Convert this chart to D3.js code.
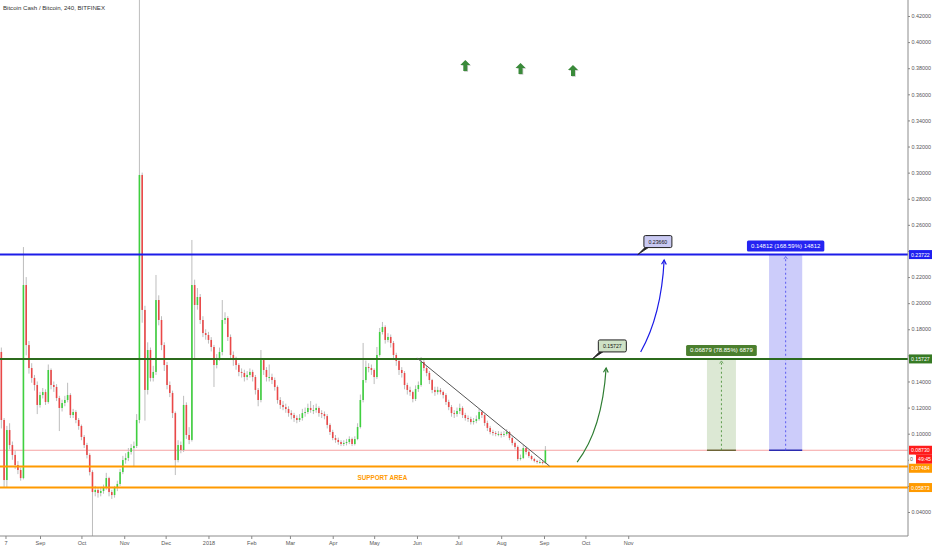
<!DOCTYPE html>
<html><head><meta charset="utf-8">
<script src="https://cdn.jsdelivr.net/npm/d3@7"></script>
<style>
body{margin:0;background:#fff;}
svg{display:block;font-family:"Liberation Sans",Arial,sans-serif;}
</style>
</head><body>
<svg id="chart" width="932" height="550"></svg>
<script>
// ---------------- DATA ----------------
const title = "Bitcoin Cash / Bitcoin, 240, BITFINEX";
const candleStart = new Date(2017, 7, 2);   // first candle date
const candleStepDays = 2;                   // candle interval (resampled)
const firstOpen = 0.1650;
const closes = [
0.1626,0.1105,0.0645,0.1028,0.0913,0.0837,0.0760,0.0722,0.0660,0.2139,
0.1679,0.1503,0.1427,0.1373,0.1220,0.1296,0.1319,0.1243,0.1488,0.1373,
0.1358,0.1273,0.1197,0.1235,0.1258,0.1296,0.1143,0.1166,0.1105,0.1059,
0.0975,0.0913,0.0837,0.0706,0.0553,0.0569,0.0546,0.0561,0.0584,0.0660,
0.0553,0.0530,0.0584,0.0615,0.0706,0.0798,0.0814,0.0860,0.0890,0.0906,
0.1105,0.2982,0.1948,0.1335,0.1641,0.1427,0.1473,0.2024,0.1871,0.1679,
0.1526,0.1373,0.1312,0.1158,0.0798,0.0913,0.0875,0.1220,0.0990,0.0952,
0.2139,0.1986,0.2047,0.1871,0.1771,0.1756,0.1718,0.1664,0.1526,0.1580,
0.1626,0.1871,0.1886,0.1741,0.1603,0.1564,0.1526,0.1473,0.1465,0.1434,
0.1450,0.1473,0.1434,0.1335,0.1258,0.1564,0.1488,0.1434,0.1434,0.1411,
0.1358,0.1258,0.1220,0.1204,0.1189,0.1158,0.1143,0.1120,0.1105,0.1120,
0.1158,0.1166,0.1197,0.1181,0.1181,0.1197,0.1158,0.1151,0.1135,0.1067,
0.1013,0.0967,0.0952,0.0936,0.0921,0.0929,0.0936,0.0959,0.0921,0.0959,
0.1051,0.1258,0.1411,0.1511,0.1503,0.1488,0.1434,0.1603,0.1779,0.1817,
0.1718,0.1741,0.1695,0.1603,0.1557,0.1488,0.1465,0.1373,0.1335,0.1319,
0.1266,0.1342,0.1373,0.1549,0.1503,0.1465,0.1411,0.1335,0.1319,0.1335,
0.1319,0.1296,0.1243,0.1204,0.1158,0.1151,0.1174,0.1197,0.1143,0.1120,
0.1112,0.1089,0.1097,0.1112,0.1166,0.1143,0.1082,0.1044,0.1013,0.1005,
0.0998,0.0998,0.0990,0.0998,0.1013,0.0967,0.0929,0.0898,0.0806,0.0814,
0.0890,0.0860,0.0829,0.0806,0.0791,0.0783,0.0783,0.0775,0.0873
];
const highs = [
0.1680,0.1660,0.1120,0.1060,0.1080,0.0940,0.0870,0.0790,0.0740,0.2430,
0.2200,0.1710,0.1540,0.1450,0.1400,0.1320,0.1350,0.1340,0.1530,0.1500,
0.1400,0.1380,0.1290,0.1260,0.1290,0.1390,0.1310,0.1190,0.1180,0.1120,
0.1070,0.0990,0.0930,0.0850,0.0720,0.0600,0.0590,0.0590,0.0610,0.0700,
0.0670,0.0570,0.0600,0.0640,0.0730,0.0830,0.0850,0.0890,0.0920,0.0940,
0.1150,0.4330,0.3000,0.1980,0.1700,0.1660,0.1520,0.2216,0.2060,0.1900,
0.1700,0.1550,0.1400,0.1330,0.1170,0.0950,0.0940,0.1290,0.1240,0.1050,
0.2484,0.2180,0.2116,0.2070,0.1900,0.1800,0.1780,0.1740,0.1680,0.1610,
0.1660,0.2024,0.1930,0.1900,0.1760,0.1630,0.1590,0.1540,0.1500,0.1490,
0.1480,0.1500,0.1490,0.1450,0.1350,0.1641,0.1580,0.1510,0.1530,0.1460,
0.1430,0.1370,0.1280,0.1250,0.1230,0.1210,0.1180,0.1160,0.1140,0.1150,
0.1190,0.1200,0.1230,0.1250,0.1220,0.1230,0.1210,0.1180,0.1170,0.1150,
0.1080,0.1030,0.0990,0.0970,0.0950,0.0950,0.0960,0.0980,0.0970,0.0980,
0.1080,0.1300,0.1695,0.1560,0.1540,0.1530,0.1500,0.1664,0.1810,0.1856,
0.1830,0.1770,0.1760,0.1710,0.1620,0.1570,0.1510,0.1480,0.1390,0.1360,
0.1330,0.1370,0.1400,0.1587,0.1570,0.1520,0.1480,0.1420,0.1360,0.1360,
0.1350,0.1330,0.1310,0.1260,0.1220,0.1180,0.1200,0.1230,0.1210,0.1160,
0.1140,0.1130,0.1120,0.1140,0.1190,0.1180,0.1150,0.1100,0.1060,0.1030,
0.1020,0.1020,0.1015,0.1020,0.1035,0.1020,0.0980,0.0940,0.0910,0.0840,
0.0913,0.0900,0.0870,0.0840,0.0815,0.0800,0.0800,0.0795,0.0905
];
const lows = [
0.1590,0.1040,0.0590,0.0590,0.0880,0.0800,0.0730,0.0690,0.0640,0.0650,
0.1600,0.1460,0.1390,0.1330,0.1150,0.1200,0.1270,0.1220,0.1230,0.1340,
0.1320,0.1250,0.1020,0.1170,0.1210,0.1240,0.1120,0.1120,0.1080,0.1030,
0.0950,0.0890,0.0810,0.0680,0.0216,0.0520,0.0510,0.0520,0.0540,0.0570,
0.0520,0.0500,0.0510,0.0560,0.0600,0.0690,0.0770,0.0790,0.0840,0.0750,
0.0890,0.1080,0.1850,0.1100,0.1300,0.1400,0.1400,0.1450,0.1830,0.1640,
0.1480,0.1340,0.1280,0.1120,0.0683,0.0780,0.0850,0.0860,0.0960,0.0920,
0.0940,0.1580,0.1950,0.1840,0.1740,0.1720,0.1690,0.1630,0.1358,0.1500,
0.1560,0.1600,0.1840,0.1710,0.1570,0.1520,0.1490,0.1440,0.1430,0.1400,
0.1410,0.1430,0.1400,0.1300,0.1210,0.1240,0.1450,0.1400,0.1400,0.1380,
0.1330,0.1230,0.1190,0.1180,0.1160,0.1130,0.1110,0.1090,0.1080,0.1090,
0.1100,0.1130,0.1150,0.1160,0.1150,0.1160,0.1130,0.1120,0.1110,0.1040,
0.0990,0.0950,0.0930,0.0915,0.0905,0.0905,0.0910,0.0920,0.0905,0.0910,
0.0950,0.1040,0.1240,0.1390,0.1470,0.1450,0.1380,0.1420,0.1590,0.1760,
0.1690,0.1700,0.1660,0.1570,0.1520,0.1450,0.1430,0.1340,0.1300,0.1290,
0.1240,0.1250,0.1320,0.1360,0.1480,0.1440,0.1380,0.1310,0.1290,0.1300,
0.1300,0.1270,0.1220,0.1180,0.1130,0.1120,0.1130,0.1150,0.1120,0.1100,
0.1090,0.1070,0.1070,0.1080,0.1100,0.1120,0.1060,0.1020,0.0995,0.0985,
0.0980,0.0980,0.0970,0.0975,0.0985,0.0950,0.0910,0.0880,0.0790,0.0795,
0.0805,0.0840,0.0815,0.0795,0.0780,0.0770,0.0770,0.0765,0.0770
];

const priceTicks = [0.04,0.06,0.08,0.10,0.12,0.14,0.16,0.18,0.20,0.22,0.24,0.26,0.28,0.30,0.32,0.34,0.36,0.38,0.40,0.42];
const xTickDates = [new Date(2017,7,7),new Date(2017,8,1),new Date(2017,9,1),new Date(2017,10,1),new Date(2017,11,1),
  new Date(2018,0,1),new Date(2018,1,1),new Date(2018,2,1),new Date(2018,3,1),new Date(2018,4,1),new Date(2018,5,1),
  new Date(2018,6,1),new Date(2018,7,1),new Date(2018,8,1),new Date(2018,9,1),new Date(2018,10,1)];
const xTickLabels = ["7","Sep","Oct","Nov","Dec","2018","Feb","Mar","Apr","May","Jun","Jul","Aug","Sep","Oct","Nov"];

const levelPrices = [0.23722, 0.15727, 0.08730, 0.07484, 0.05873];
const levelLabels = ["0.23722","0.15727","0.08730","0.07484","0.05873"];
const countdownText = "49:45";

const trendDates = [new Date(2018,5,1), new Date(2018,8,5)];
const trendPrices = [0.1580, 0.0752];

const supportText = "SUPPORT AREA";
const supportDate = new Date(2018,4,7);
const supportPrice = 0.0668;

const arrowDates = [new Date(2018,6,6), new Date(2018,7,15), new Date(2018,8,22)];
const arrowPrices = [0.3817, 0.3794, 0.3779];

const greenCurveDates = [new Date(2018,8,25), new Date(2018,9,13), new Date(2018,9,16)];
const greenCurvePrices = [0.0783, 0.1028, 0.1503];
const blueCurveDates = [new Date(2018,10,10), new Date(2018,10,25), new Date(2018,10,27)];
const blueCurvePrices = [0.1626, 0.1909, 0.2331];

const calloutDates = [new Date(2018,9,6), new Date(2018,10,8)];
const calloutPrices = [0.15727, 0.23722];
const calloutTexts = ["0.15727", "0.23660"];

const measureStartDates = [new Date(2018,11,28), new Date(2019,1,11)];
const measureEndDates = [new Date(2019,0,18), new Date(2019,2,7)];
const measureFrom = [0.0873, 0.0873];
const measureTo = [0.15727, 0.23722];
const measureTexts = ["0.06879 (78.85%) 6879", "0.14812 (168.59%) 14812"];

// ---------------- CHART ----------------
const svg = d3.select("#chart");
const PR = 908, PB = 536;
const x = d3.scaleTime().domain([new Date(2017,8,1), new Date(2018,8,1)]).range([40,544]);
const y = d3.scaleLinear().domain([0.04,0.42]).range([512,16]);

svg.append("defs").append("clipPath").attr("id","plotclip")
  .append("rect").attr("x",0).attr("y",0).attr("width",PR).attr("height",PB);
const plot = svg.append("g").attr("clip-path","url(#plotclip)");

const levelStyle = [
  {stroke:"#1c1ce8", w:2, box:"#1f1ff0"},
  {stroke:"#2c6b1d", w:2, box:"#367a24"},
  {stroke:"#f6a3a3", w:1, box:"#ff1b1b"},
  {stroke:"#ff9a00", w:2, box:"#ff9a00"},
  {stroke:"#ff9a00", w:2, box:"#ff9a00"}
];

// current price line (under series)
plot.append("line").attr("x1",0).attr("x2",PR)
  .attr("y1",y(levelPrices[2])).attr("y2",y(levelPrices[2]))
  .attr("stroke",levelStyle[2].stroke).attr("stroke-width",1);

// measurement boxes
const mg = plot.append("g");
const mStyle = [
  {fill:"#dce8d4", dash:"#5b9a4b", base:"#6e6436", label:"#4b7f2e"},
  {fill:"#ccccfa", dash:"#5a5af0", base:"#2b2bb0", label:"#2424f2"}
];
measureTexts.forEach((t,i)=>{
  const x0 = x(measureStartDates[i]), x1 = x(measureEndDates[i]);
  const yTop = y(measureTo[i]), yBot = y(measureFrom[i]);
  const cx = (x0+x1)/2;
  mg.append("rect").attr("x",x0).attr("y",yTop).attr("width",x1-x0).attr("height",yBot-yTop)
    .attr("fill",mStyle[i].fill);
  mg.append("line").attr("x1",x0).attr("x2",x1).attr("y1",yBot).attr("y2",yBot)
    .attr("stroke",mStyle[i].base).attr("stroke-width",1.5);
  mg.append("line").attr("x1",cx).attr("x2",cx).attr("y1",yBot).attr("y2",yTop+2)
    .attr("stroke",mStyle[i].dash).attr("stroke-width",1).attr("stroke-dasharray","2,2.5");
  mg.append("path").attr("d",`M${cx-1.8},${yTop+4.5}L${cx},${yTop+2}L${cx+1.8},${yTop+4.5}`)
    .attr("fill","none").attr("stroke",mStyle[i].dash).attr("stroke-width",0.8);
});

// candles
const candles = closes.map((c,i)=>({
  date: d3.timeDay.offset(candleStart, i*candleStepDays),
  open: i ? closes[i-1] : firstOpen, close: c, high: highs[i], low: lows[i]
}));
const cg = plot.append("g");
cg.selectAll("line.wick").data(candles).join("line").attr("class","wick")
  .attr("x1",d=>x(d.date)).attr("x2",d=>x(d.date))
  .attr("y1",d=>y(d.high)).attr("y2",d=>y(d.low))
  .attr("stroke","#bdbdbd").attr("stroke-width",1);
cg.selectAll("rect.body").data(candles).join("rect").attr("class","body")
  .attr("x",d=>x(d.date)-0.8).attr("width",1.6)
  .attr("y",d=>y(Math.max(d.open,d.close)))
  .attr("height",d=>Math.max(1, Math.abs(y(d.open)-y(d.close))))
  .attr("fill",d=>d.close>=d.open ? "#3fd03f" : "#ea4848");

// horizontal level drawings
[0,1,3,4].forEach(i=>{
  plot.append("line").attr("x1",0).attr("x2",PR)
    .attr("y1",y(levelPrices[i])).attr("y2",y(levelPrices[i]))
    .attr("stroke",levelStyle[i].stroke).attr("stroke-width",levelStyle[i].w);
});

// trend line
plot.append("line")
  .attr("x1",x(trendDates[0])).attr("y1",y(trendPrices[0]))
  .attr("x2",x(trendDates[1])).attr("y2",y(trendPrices[1]))
  .attr("stroke","#555").attr("stroke-width",1);

// support text
plot.append("text").attr("x",x(supportDate)).attr("y",y(supportPrice))
  .attr("text-anchor","middle").attr("dominant-baseline","central")
  .attr("font-size",6.3).attr("font-weight","bold").attr("fill","#ff9a00").text(supportText);

// up arrow icons
arrowDates.forEach((d,i)=>{
  const cx = x(d), cy = y(arrowPrices[i]);
  const p = "M0,-6L5,-1L2,-1L2,5L-2,5L-2,-1L-5,-1Z";
  plot.append("path").attr("d",p).attr("transform",`translate(${cx+0.8},${cy+0.8})`).attr("fill","#c8c8c8");
  plot.append("path").attr("d",p).attr("transform",`translate(${cx},${cy})`).attr("fill","#3a8a3a");
});

// curved arrows
function curveArrow(dates, prices, color){
  const p0=[x(dates[0]),y(prices[0])], c=[x(dates[1]),y(prices[1])], p1=[x(dates[2]),y(prices[2])];
  plot.append("path").attr("d",`M${p0[0]},${p0[1]}Q${c[0]},${c[1]} ${p1[0]},${p1[1]}`)
    .attr("fill","none").attr("stroke",color).attr("stroke-width",1.2);
  const a = Math.atan2(p1[1]-c[1], p1[0]-c[0]), L = 5;
  const l1 = [p1[0]-L*Math.cos(a-0.5), p1[1]-L*Math.sin(a-0.5)];
  const l2 = [p1[0]-L*Math.cos(a+0.5), p1[1]-L*Math.sin(a+0.5)];
  plot.append("path").attr("d",`M${l1[0]},${l1[1]}L${p1[0]},${p1[1]}L${l2[0]},${l2[1]}`)
    .attr("fill","none").attr("stroke",color).attr("stroke-width",1.2);
}
curveArrow(greenCurveDates, greenCurvePrices, "#2e7d32");
curveArrow(blueCurveDates, blueCurvePrices, "#1a1ae6");

// callouts
const calloutFill = ["#cfe2c6","#c9c9f2"];
calloutTexts.forEach((t,i)=>{
  const ax = x(calloutDates[i]), ay = y(calloutPrices[i]);
  const bx = ax+6, by = ay-19, bw = 28, bh = 12;
  plot.append("path").attr("d",`M${ax},${ay}L${bx+2},${by+bh-1}L${bx+6},${by+bh-1}Z`)
    .attr("fill","#222").attr("stroke","#222").attr("stroke-width",0.8);
  plot.append("rect").attr("x",bx).attr("y",by).attr("width",bw).attr("height",bh).attr("rx",1.5)
    .attr("fill",calloutFill[i]).attr("stroke","#222").attr("stroke-width",1);
  plot.append("text").attr("x",bx+bw/2).attr("y",by+bh/2).attr("text-anchor","middle")
    .attr("dominant-baseline","central").attr("font-size",5.2).attr("fill","#111").text(t);
});

// measurement labels
measureTexts.forEach((t,i)=>{
  const x0 = x(measureStartDates[i]), x1 = x(measureEndDates[i]);
  const cx = (x0+x1)/2, yTop = y(measureTo[i]);
  const lab = plot.append("g");
  const rect = lab.append("rect");
  const txt = lab.append("text").attr("x",cx).attr("y",yTop-8.5).attr("text-anchor","middle")
    .attr("dominant-baseline","central").attr("font-size",6).attr("fill","#fff").text(t);
  const w = txt.node().getComputedTextLength()+8;
  rect.attr("x",cx-w/2).attr("y",yTop-14).attr("width",w).attr("height",11)
    .attr("rx",1.5).attr("fill",mStyle[i].label);
});

// axes lines
svg.append("line").attr("x1",PR).attr("x2",PR).attr("y1",0).attr("y2",PB).attr("stroke","#8c8c8c").attr("stroke-width",1);
svg.append("line").attr("x1",0).attr("x2",PR).attr("y1",PB).attr("y2",PB).attr("stroke","#8c8c8c").attr("stroke-width",1);

// axis price label positions (stacked like the platform does, no overlap)
const boxH = 9;
const labelCenters = [y(levelPrices[0]), y(levelPrices[1]), y(levelPrices[2]), y(levelPrices[2]) + boxH, 0, y(levelPrices[4])];
labelCenters[4] = Math.max(y(levelPrices[3]), labelCenters[3] + boxH);

// price tick labels hidden where a level label covers them
const gy = svg.append("g").attr("transform",`translate(${PR},0)`)
  .call(d3.axisRight(y).tickValues(priceTicks).tickFormat(d3.format(".5f")).tickSize(2).tickPadding(1.5));
gy.select(".domain").remove();
gy.attr("font-size",5.4).attr("font-family","'Liberation Sans',Arial,sans-serif");
gy.selectAll(".tick line").attr("stroke","#888");
gy.selectAll(".tick text").attr("fill","#555")
  .style("display", d => labelCenters.some(c => Math.abs(y(d)-c) < boxH) ? "none" : null);

const gx = svg.append("g").attr("transform",`translate(0,${PB})`)
  .call(d3.axisBottom(x).tickValues(xTickDates).tickFormat((d,i)=>xTickLabels[i]).tickSize(3).tickPadding(2.5));
gx.select(".domain").remove();
gx.attr("font-size",5.5).attr("font-family","'Liberation Sans',Arial,sans-serif");
gx.selectAll(".tick line").attr("stroke","#888");
gx.selectAll(".tick text").attr("fill","#555");

function axisLabel(cy, fill, text, x0, color){
  svg.append("rect").attr("x",x0).attr("y",cy-boxH/2).attr("width",932-x0).attr("height",boxH).attr("fill",fill);
  svg.append("text").attr("x",x0+2).attr("y",cy).attr("dominant-baseline","central")
    .attr("font-size",5.2).attr("fill",color||"#fff").text(text);
}
axisLabel(labelCenters[0], levelStyle[0].box, levelLabels[0], PR+1);
axisLabel(labelCenters[1], levelStyle[1].box, levelLabels[1], PR+1);
axisLabel(labelCenters[2], levelStyle[2].box, levelLabels[2], PR+1);
// countdown under current price
svg.append("rect").attr("x",PR+1).attr("y",labelCenters[3]-boxH/2).attr("width",6).attr("height",boxH).attr("fill","#fff");
svg.append("text").attr("x",PR+2).attr("y",labelCenters[3]).attr("dominant-baseline","central")
  .attr("font-size",5.2).attr("fill","#555").text("0");
axisLabel(labelCenters[3], levelStyle[2].box, countdownText, PR+8);
axisLabel(labelCenters[4], levelStyle[3].box, levelLabels[3], PR+1);
axisLabel(labelCenters[5], levelStyle[4].box, levelLabels[4], PR+1);

// title
svg.append("text").attr("x",3).attr("y",10).attr("font-size",6.1).attr("fill","#333").text(title);
</script>
</body></html>
